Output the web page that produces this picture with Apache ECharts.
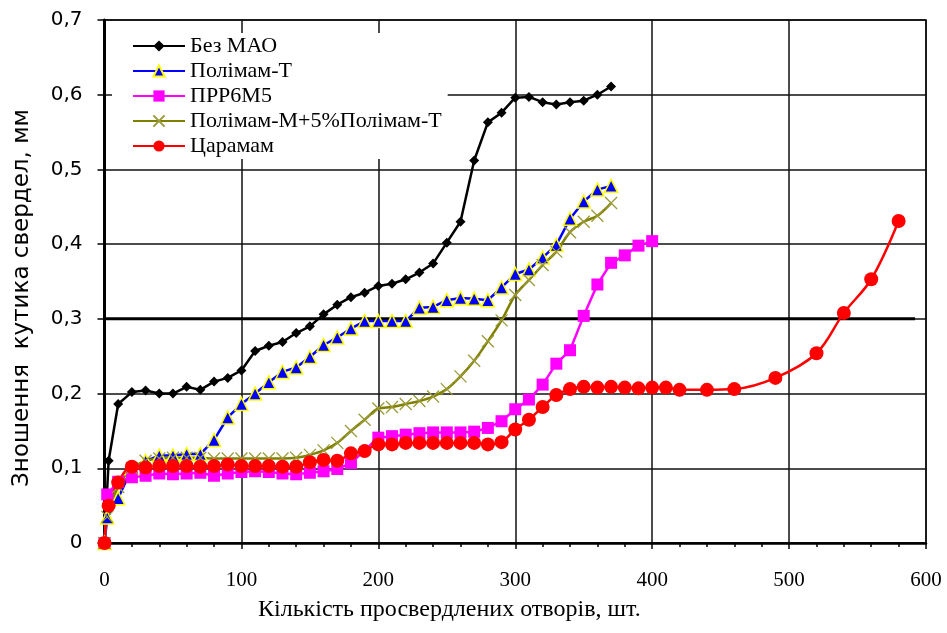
<!DOCTYPE html>
<html>
<head>
<meta charset="utf-8">
<script src="https://cdn.jsdelivr.net/npm/echarts@6/dist/echarts.min.js"></script>
<style>
html,body{margin:0;padding:0;background:#fff;}
#chart{width:947px;height:633px;}
</style>
</head>
<body>
<div id="chart"></div>
<script>
// ---- Data ----
const seriesNames = ['Без МАО', 'Полімам-Т', 'ПРР6М5', 'Полімам-М+5%Полімам-Т', 'Царамам'];
const xTitle = 'Кількість просвердлених отворів, шт.';
const yTitle = 'Зношення  кутика свердел, мм';

const bezMao = [[0,0],[3,0.11],[10,0.186],[20,0.202],[30,0.204],[40,0.2],[50,0.2],[60,0.209],[70,0.205],[80,0.216],[90,0.221],[100,0.231],[110,0.257],[120,0.264],[130,0.269],[140,0.281],[150,0.29],[160,0.306],[170,0.319],[180,0.329],[190,0.335],[200,0.344],[210,0.347],[220,0.353],[230,0.362],[240,0.374],[250,0.402],[260,0.43],[270,0.512],[280,0.563],[290,0.576],[300,0.596],[310,0.597],[320,0.59],[330,0.587],[340,0.59],[350,0.592],[360,0.6],[370,0.611]];

const polimamT = [[0,0],[2,0.034],[10,0.06],[20,0.1],[30,0.11],[40,0.117],[50,0.117],[60,0.119],[70,0.119],[80,0.138],[90,0.168],[100,0.186],[110,0.2],[120,0.215],[130,0.229],[140,0.235],[150,0.249],[160,0.265],[170,0.275],[180,0.287],[190,0.297],[200,0.297],[210,0.297],[220,0.297],[230,0.315],[240,0.316],[250,0.325],[260,0.328],[270,0.327],[280,0.325],[290,0.342],[300,0.36],[310,0.366],[320,0.382],[330,0.399],[340,0.434],[350,0.457],[360,0.473],[370,0.478]];

const prr6m5 = [[0,0],[2,0.065],[10,0.082],[20,0.088],[30,0.09],[40,0.093],[50,0.092],[60,0.093],[70,0.094],[80,0.09],[90,0.093],[100,0.095],[110,0.096],[120,0.095],[130,0.093],[140,0.092],[150,0.094],[160,0.096],[170,0.099],[180,0.107],[200,0.141],[210,0.143],[220,0.145],[230,0.147],[240,0.148],[250,0.148],[260,0.148],[270,0.149],[280,0.154],[290,0.163],[300,0.179],[310,0.192],[320,0.212],[330,0.24],[340,0.258],[350,0.304],[360,0.346],[370,0.375],[380,0.385],[390,0.398],[400,0.404]];

const polimamM = [[0,0],[2,0.035],[10,0.075],[20,0.1],[30,0.11],[40,0.113],[50,0.114],[60,0.114],[70,0.114],[80,0.113],[90,0.113],[100,0.113],[110,0.113],[120,0.113],[130,0.113],[140,0.114],[150,0.118],[160,0.124],[170,0.134],[180,0.15],[190,0.165],[200,0.18],[210,0.182],[220,0.186],[230,0.19],[240,0.196],[250,0.206],[260,0.223],[270,0.244],[280,0.27],[290,0.298],[300,0.332],[310,0.352],[320,0.372],[330,0.39],[340,0.416],[350,0.43],[360,0.438],[370,0.455]];

const tsaramam = [[0,0],[3,0.05],[10,0.081],[20,0.102],[30,0.101],[40,0.103],[50,0.103],[60,0.103],[70,0.102],[80,0.103],[90,0.105],[100,0.103],[110,0.103],[120,0.103],[130,0.102],[140,0.102],[150,0.108],[160,0.111],[170,0.11],[180,0.12],[190,0.123],[200,0.132],[210,0.132],[220,0.134],[230,0.134],[240,0.134],[250,0.134],[260,0.134],[270,0.134],[280,0.132],[290,0.135],[300,0.152],[310,0.165],[320,0.182],[330,0.198],[340,0.206],[350,0.209],[360,0.208],[370,0.209],[380,0.208],[390,0.207],[400,0.208],[410,0.208],[420,0.205],[440,0.205],[460,0.206],[490,0.221],[520,0.254],[540,0.308],[560,0.353],[580,0.431]];

const thresholdLine = [[0,0.3],[592,0.3]];

const xTicks = {min:0, max:600, interval:100};
const yTicks = {min:0, max:0.7, interval:0.1};

// ---- Chart ----
const chart = echarts.init(document.getElementById('chart'), null, {renderer:'canvas'});
const serif = '"Liberation Serif", "Times New Roman", serif';
const sans = '"DejaVu Sans", Verdana, sans-serif';

const option = {
  animation: false,
  backgroundColor: '#fff',
  grid: {left:104.5, right:21, top:20, bottom:90, show:true, borderColor:'#000', borderWidth:1.5, backgroundColor:'transparent'},
  legend: {
    data: seriesNames,
    orient: 'vertical',
    left: 112, top: 33,
    itemWidth: 52, itemHeight: 14, itemGap: 3,
    backgroundColor: '#fff',
    padding: [2, 6, 2, 20],
    textStyle: {fontFamily: serif, fontSize: 22, color: '#000'}
  },
  xAxis: {
    type: 'value', min: xTicks.min, max: xTicks.max, interval: xTicks.interval,
    axisLine: {show:true, onZero:false, lineStyle:{color:'#000', width:2.5}},
    axisTick: {show:true, inside:false, length:6, lineStyle:{color:'#000', width:1.5}},
    minorTick: {show:true, splitNumber:5, length:4, lineStyle:{color:'#000', width:1.5}},
    splitLine: {show:true, lineStyle:{color:'#111', width:1.5}},
    axisLabel: {margin:27, fontFamily: serif, fontSize: 21, color:'#000'}
  },
  yAxis: {
    type: 'value', min: yTicks.min, max: yTicks.max, interval: yTicks.interval,
    axisLine: {show:true, onZero:false, lineStyle:{color:'#000', width:3}},
    axisTick: {show:true, inside:false, length:7, lineStyle:{color:'#000', width:1.5}},
    splitLine: {show:true, lineStyle:{color:'#111', width:1.5}},
    axisLabel: {margin:22, fontFamily: sans, fontSize: 20, color:'#000',
      formatter: v => (Math.abs(v) < 1e-9 ? '0' : v.toFixed(1).replace('.', ','))}
  },
  graphic: [
    {type:'text', left: 258, top: 598, style:{text: xTitle, font: '24px ' + serif, fill:'#000'}},
    {type:'text', x: 22, y: 298, rotation: Math.PI/2, style:{text: yTitle, font: '23px ' + sans, fill:'#000', align:'center', verticalAlign:'middle'}}
  ],
  series: [
    {name:'threshold', type:'line', data: thresholdLine, symbol:'none', lineStyle:{color:'#000', width:3}, z:1, silent:true},
    {name: seriesNames[0], type:'line', data: bezMao, symbol:'diamond', symbolSize:10,
      lineStyle:{color:'#000', width:2.5}, itemStyle:{color:'#000'}},
    {name: seriesNames[1], type:'line', data: polimamT, symbol:'triangle', symbolSize:13,
      lineStyle:{color:'#0000ff', width:2.5}, itemStyle:{color:'#0000ff', borderColor:'#ffff00', borderWidth:1.5}},
    {name: seriesNames[2], type:'line', data: prr6m5, symbol:'rect', symbolSize:12,
      lineStyle:{color:'#ff00ff', width:2.5}, itemStyle:{color:'#ff00ff'}},
    {name: seriesNames[3], type:'line', data: polimamM, symbol:'path://M0,0L10,10M10,0L0,10', symbolSize:12, smooth:0.3,
      lineStyle:{color:'#808000', width:2.5}, itemStyle:{color:'#808000', borderColor:'#9a9a3a', borderWidth:1.3}},
    {name: seriesNames[4], type:'line', data: tsaramam, symbol:'circle', symbolSize:14, smooth:0.35,
      lineStyle:{color:'#ff0000', width:2.5}, itemStyle:{color:'#ff0000'}}
  ]
};
chart.setOption(option);
</script>
</body>
</html>
